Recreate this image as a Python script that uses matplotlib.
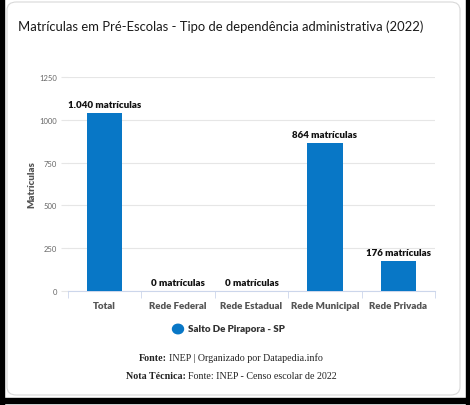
import matplotlib.pyplot as plt
from matplotlib.patches import Rectangle, FancyBboxPatch

categorias = ["Total", "Rede Federal", "Rede Estadual", "Rede Municipal", "Rede Privada"]
matriculas = [1040, 0, 0, 864, 176]
rotulos = ["1.040 matrículas", "0 matrículas", "0 matrículas", "864 matrículas", "176 matrículas"]
yticks = [0, 250, 500, 750, 1000, 1250]

azul = "#0877C6"
cinza = "#555555"
plt.rcParams["font.family"] = ["Lato", "DejaVu Sans"]

W, H = 470, 406
fig = plt.figure(figsize=(W / 100, H / 100), dpi=100)
fig.patch.set_facecolor("white")

# card frame and the dark scan borders
fig.patches.append(FancyBboxPatch((7 / W, 1 - 396 / H), 453 / W, 393 / H,
                                  boxstyle="round,pad=0,rounding_size=0.02",
                                  transform=fig.transFigure, fc="white", ec="#d9d9d9", lw=0.8,
                                  zorder=-5))
fig.patches.append(Rectangle((0, 0), 3.5 / W, 1, transform=fig.transFigure, color="black"))
fig.patches.append(Rectangle((0, 1 - 404 / H), 1, 5 / H, transform=fig.transFigure, color="black"))
fig.patches.append(Rectangle((466 / W, 0), 4 / W, 1, transform=fig.transFigure, color="black"))

ax = fig.add_axes([68 / W, 1 - 292 / H, (435 - 68) / W, (292 - 78) / H])
ax.patch.set_alpha(0)
x = list(range(len(categorias)))
ax.bar(x, matriculas, width=0.48, color=azul, zorder=3)
for xi, v, r in zip(x, matriculas, rotulos):
    ax.text(xi, v + 22, r, ha="center", va="bottom", fontsize=7, fontweight="heavy", color="#111111")

ax.set_xlim(-0.5, len(categorias) - 0.5)
ax.set_ylim(0, 1250)
ax.set_yticks(yticks)
ax.set_yticklabels([str(t) for t in yticks], fontsize=5.5, color="#666666")
ax.grid(axis="y", color="#e6e6e6", lw=0.8, zorder=0)
ax.tick_params(axis="y", length=5, color="#e6e6e6", pad=3)
ax.set_xticks(x)
ax.set_xticklabels(categorias, fontsize=7, fontweight="heavy", color=cinza)
ax.tick_params(axis="x", length=0, pad=7)
ax.set_xticks([i - 0.5 for i in range(len(categorias) + 1)], minor=True)
ax.tick_params(axis="x", which="minor", length=5, color="#ccd6eb")
for s in ["top", "right", "left"]:
    ax.spines[s].set_visible(False)
ax.spines["bottom"].set_color("#ccd6eb")
ax.set_ylabel("Matrículas", fontsize=7, fontweight="heavy", color=cinza, labelpad=2)

fig.text(18 / W, 1 - 27 / H, "Matrículas em Pré-Escolas - Tipo de dependência administrativa (2022)",
         fontsize=9.4, color="#1a1a1a", va="center", ha="left")

# legend
fig.patches.append(plt.Circle((178 / W, 1 - 330 / H), 5.5 / W, transform=fig.transFigure, color=azul))
fig.text(188 / W, 1 - 330 / H, "Salto De Pirapora - SP", fontsize=7, fontweight="heavy",
         color="#333333", va="center", ha="left")

# footer, bold prefix followed by regular text, centred as a whole
fig.canvas.draw()
renderer = fig.canvas.get_renderer()
for y, negrito, resto in [(361, "Fonte:", "INEP | Organizado por Datapedia.info"),
                          (379, "Nota Técnica:", "Fonte: INEP - Censo escolar de 2022")]:
    t1 = fig.text(0, 1 - y / H, negrito, family="Liberation Serif", fontweight="bold",
                  fontsize=7.2, color="#222222", va="baseline")
    t2 = fig.text(0, 1 - y / H, resto, family="Liberation Serif", fontsize=7.2,
                  color="#222222", va="baseline")
    w1 = t1.get_window_extent(renderer).width
    w2 = t2.get_window_extent(renderer).width
    gap = 2.5
    x0 = 231 - (w1 + gap + w2) / 2
    t1.set_x(x0 / W)
    t2.set_x((x0 + w1 + gap) / W)

fig.savefig("out.png", dpi=100)
